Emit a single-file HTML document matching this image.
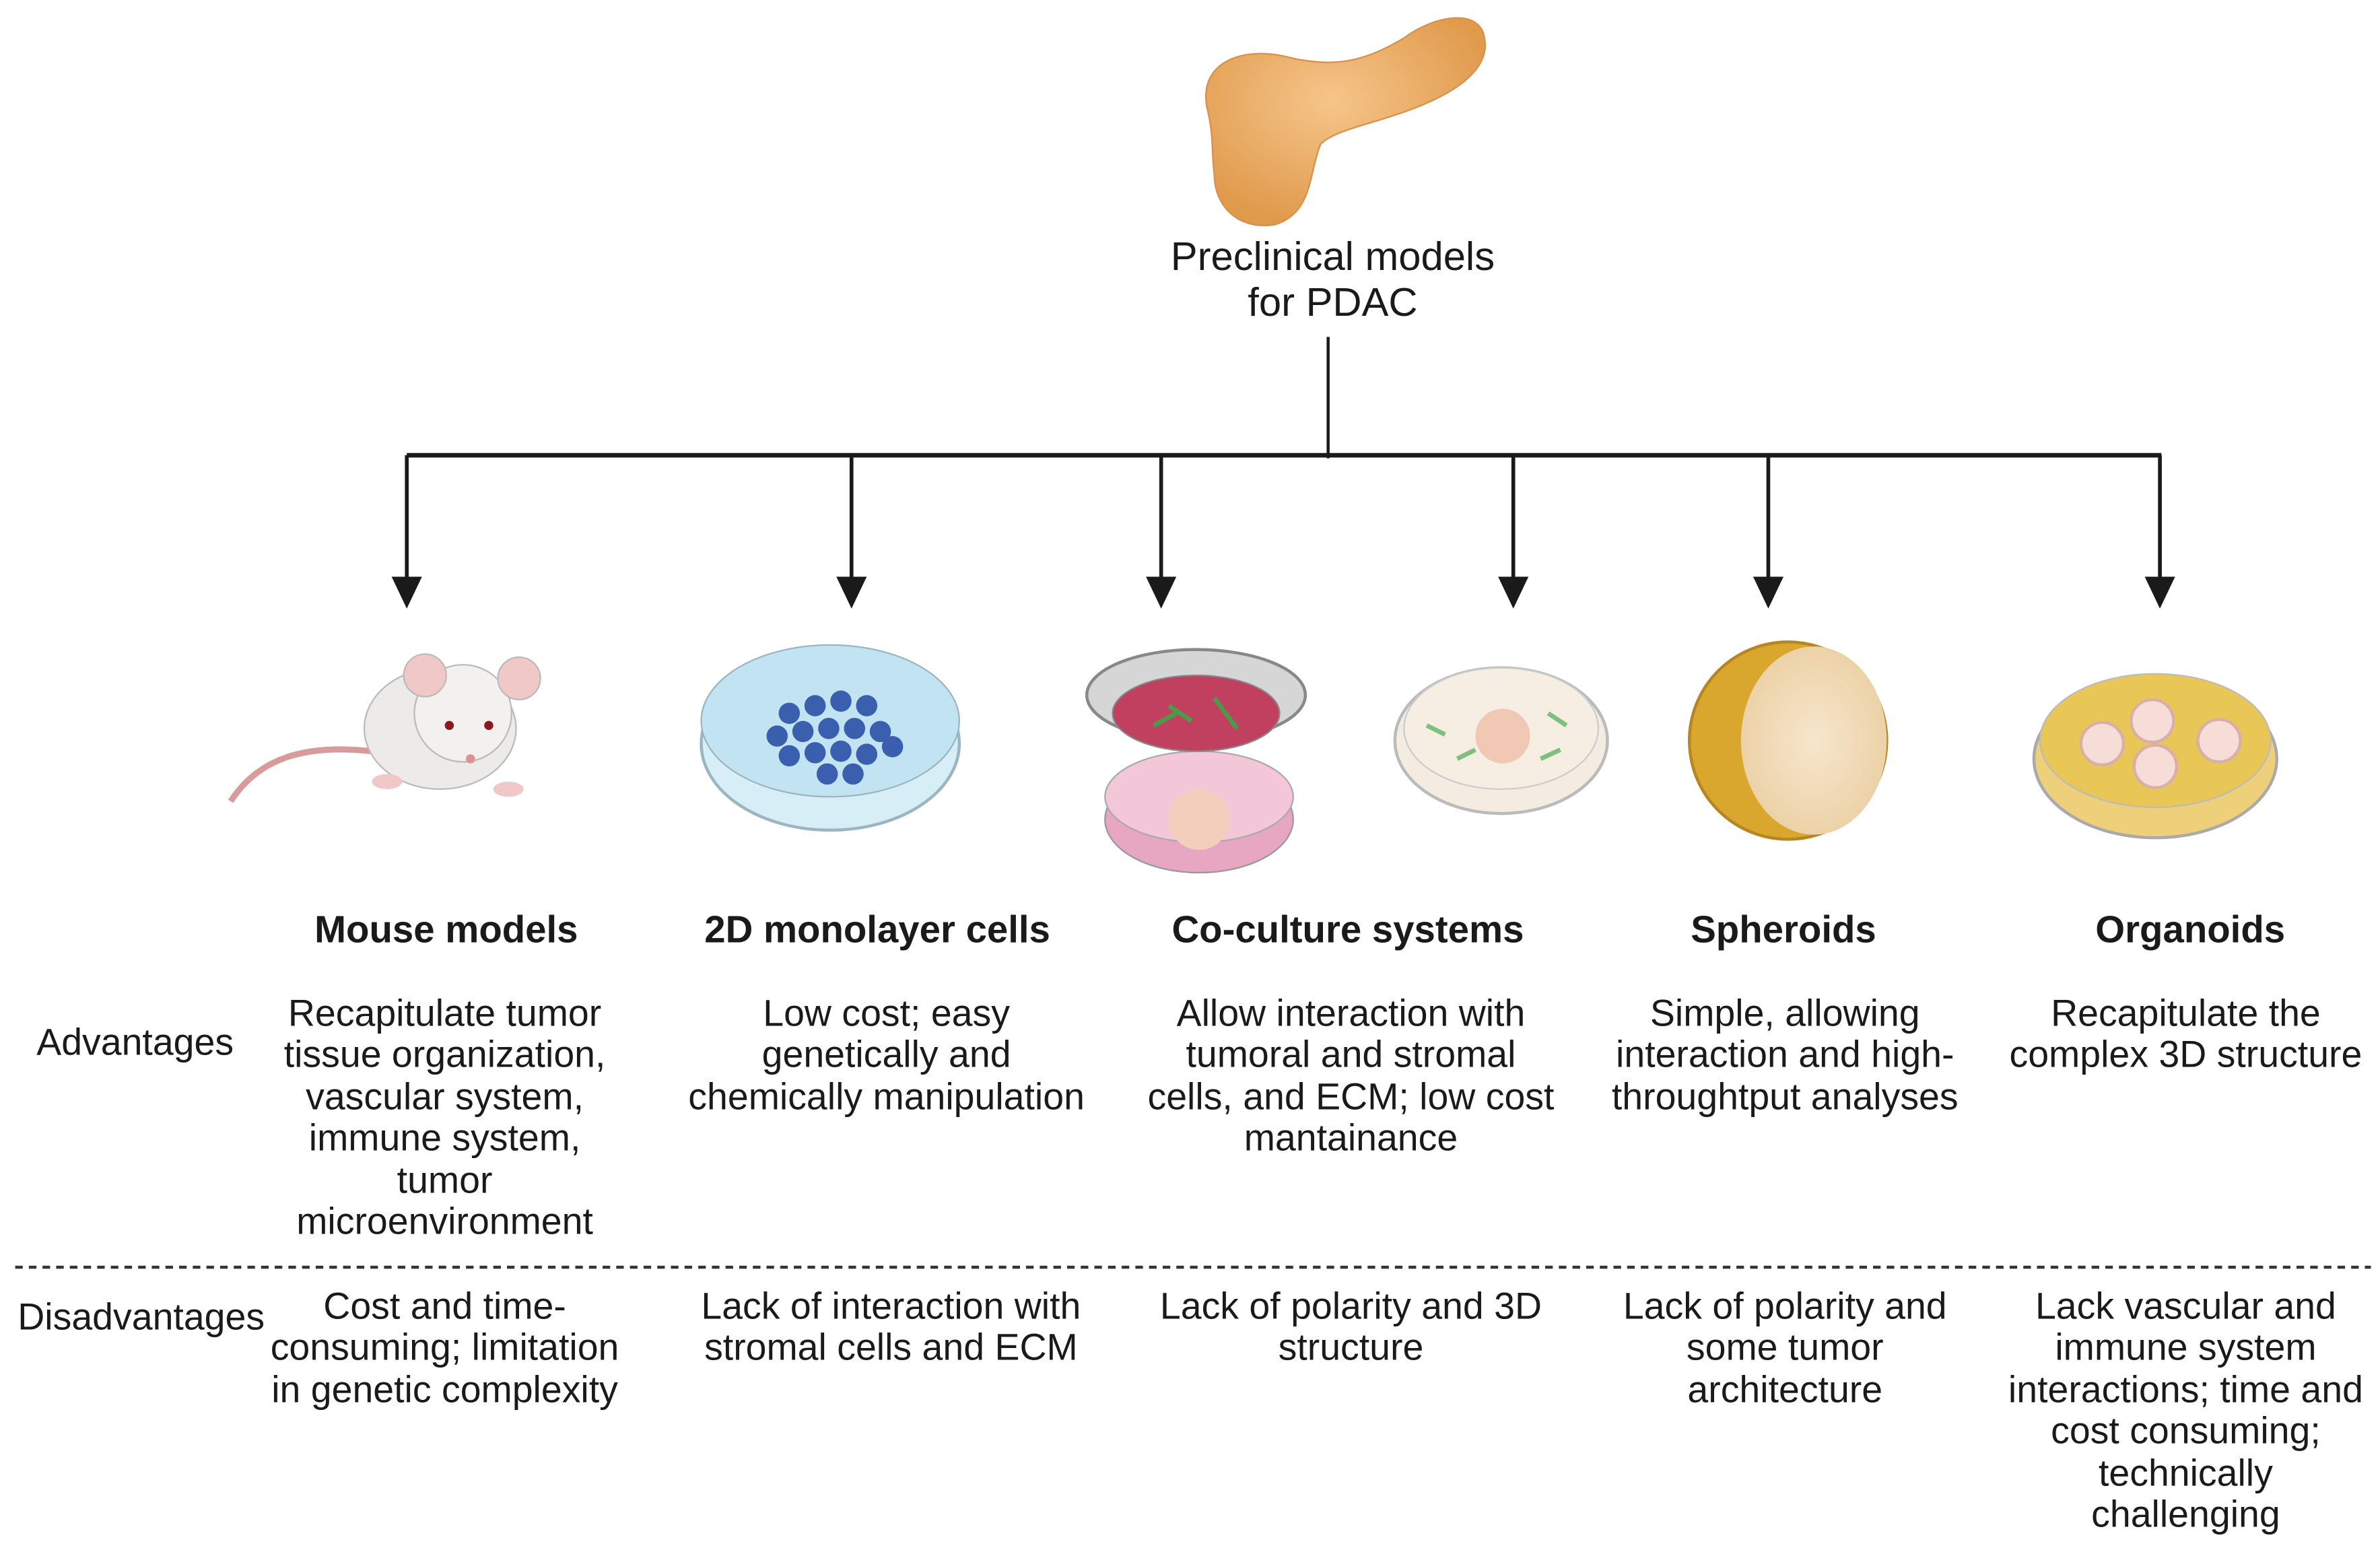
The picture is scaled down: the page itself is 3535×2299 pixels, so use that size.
<!DOCTYPE html>
<html><head><meta charset="utf-8"><style>
html,body{margin:0;padding:0;background:#fff;}
svg{display:block;}
text{font-family:"Liberation Sans",sans-serif;fill:#1a1a1a;}
</style></head><body>
<svg width="3535" height="2299" viewBox="0 0 1568 1020" preserveAspectRatio="none" xmlns="http://www.w3.org/2000/svg">
<defs>
<radialGradient id="pg" cx="0.45" cy="0.4" r="0.6"><stop offset="0" stop-color="#f6c58a"/><stop offset="1" stop-color="#e09a4c"/></radialGradient>
<radialGradient id="sg" cx="0.5" cy="0.5" r="0.5"><stop offset="0" stop-color="#f7e6cc"/><stop offset="1" stop-color="#ecd2a8"/></radialGradient>
</defs>
<path d="M795 70 C790 40 820 30 850 38 C880 45 900 40 925 25 C945 10 975 5 978 25 C982 45 960 60 935 70 C905 82 880 85 870 95 C862 115 865 140 840 148 C815 152 800 135 800 115 C798 100 800 90 795 70 Z" fill="url(#pg)" stroke="#d8904a" stroke-width="1"/>
<text x="878" y="178" font-size="26.5" text-anchor="middle">Preclinical models</text>
<text x="878" y="208" font-size="26.5" text-anchor="middle">for PDAC</text>
<g stroke="#1a1a1a" fill="none">
<line x1="875" y1="222" x2="875" y2="302" stroke-width="2"/>
<line x1="268" y1="300" x2="1424" y2="300" stroke-width="3"/>
<g stroke-width="2.5">
<line x1="268" y1="300" x2="268" y2="382"/><line x1="561" y1="300" x2="561" y2="382"/>
<line x1="765" y1="300" x2="765" y2="382"/><line x1="997" y1="300" x2="997" y2="382"/>
<line x1="1165" y1="300" x2="1165" y2="382"/><line x1="1423" y1="300" x2="1423" y2="382"/>
</g>
</g>
<g fill="#1a1a1a">
<polygon points="258,380 278,380 268,401"/><polygon points="551,380 571,380 561,401"/>
<polygon points="755,380 775,380 765,401"/><polygon points="987,380 1007,380 997,401"/>
<polygon points="1155,380 1175,380 1165,401"/><polygon points="1413,380 1433,380 1423,401"/>
</g>
<path d="M245 495 C200 490 170 500 152 528" stroke="#d99a9a" stroke-width="4" fill="none"/>
<ellipse cx="290" cy="480" rx="50" ry="40" fill="#ecebea" stroke="#bdbab8"/>
<circle cx="305" cy="470" r="32" fill="#f2f1f0" stroke="#bdbab8"/>
<circle cx="280" cy="445" r="14" fill="#f0c8c8" stroke="#bdbab8"/>
<circle cx="342" cy="447" r="14" fill="#f0c8c8" stroke="#bdbab8"/>
<circle cx="296" cy="478" r="3" fill="#8a1a1a"/><circle cx="322" cy="478" r="3" fill="#8a1a1a"/>
<circle cx="310" cy="500" r="3" fill="#e09090"/>
<ellipse cx="255" cy="515" rx="10" ry="5" fill="#f0c8c8"/><ellipse cx="335" cy="520" rx="10" ry="5" fill="#f0c8c8"/>
<ellipse cx="547" cy="490" rx="85" ry="57" fill="#d8eef6" stroke="#9ab6c2" stroke-width="2"/>
<ellipse cx="547" cy="475" rx="85" ry="50" fill="#c2e4f2" stroke="#9ab6c2"/>
<g fill="#3a5fae">
<circle cx="520" cy="470" r="7"/><circle cx="537" cy="465" r="7"/><circle cx="554" cy="462" r="7"/><circle cx="571" cy="465" r="7"/>
<circle cx="512" cy="485" r="7"/><circle cx="529" cy="482" r="7"/><circle cx="546" cy="480" r="7"/><circle cx="563" cy="480" r="7"/><circle cx="580" cy="482" r="7"/>
<circle cx="520" cy="498" r="7"/><circle cx="537" cy="496" r="7"/><circle cx="554" cy="495" r="7"/><circle cx="571" cy="497" r="7"/><circle cx="588" cy="492" r="7"/>
<circle cx="545" cy="510" r="7"/><circle cx="562" cy="510" r="7"/>
</g>
<ellipse cx="790" cy="540" rx="62" ry="35" fill="#e7a6c2" stroke="#999"/>
<ellipse cx="790" cy="525" rx="62" ry="30" fill="#f3c7d8" stroke="#aaa"/>
<circle cx="790" cy="540" r="20" fill="#f2cfbd"/>
<ellipse cx="788" cy="458" rx="72" ry="30" fill="#d6d6d6" stroke="#888" stroke-width="2"/>
<ellipse cx="788" cy="470" rx="55" ry="25" fill="#c2405f" stroke="#888"/>
<g stroke="#4a9a4a" stroke-width="3"><line x1="770" y1="465" x2="785" y2="475"/><line x1="800" y1="460" x2="815" y2="480"/><line x1="760" y1="478" x2="775" y2="470"/></g>
<ellipse cx="989" cy="488" rx="70" ry="48" fill="#f4ebe1" stroke="#bbb" stroke-width="2"/>
<ellipse cx="989" cy="480" rx="64" ry="40" fill="#f6eee3" stroke="#ccc"/>
<circle cx="990" cy="485" r="18" fill="#f0c8b4"/>
<g stroke="#7ec07e" stroke-width="3"><line x1="940" y1="478" x2="952" y2="484"/><line x1="1020" y1="470" x2="1032" y2="478"/><line x1="960" y1="500" x2="972" y2="494"/><line x1="1015" y1="500" x2="1028" y2="494"/></g>
<circle cx="1178" cy="488" r="65" fill="#d9a62e" stroke="#b78620" stroke-width="2"/>
<ellipse cx="1195" cy="488" rx="48" ry="62" fill="url(#sg)"/>
<ellipse cx="1420" cy="500" rx="80" ry="52" fill="#efd07a" stroke="#aaa" stroke-width="2"/>
<ellipse cx="1420" cy="488" rx="76" ry="44" fill="#e9c757" stroke="#bbb"/>
<g fill="#f7ddd8" stroke="#d9b0a8" stroke-width="2">
<circle cx="1385" cy="490" r="14"/><circle cx="1418" cy="475" r="14"/><circle cx="1420" cy="505" r="14"/><circle cx="1462" cy="488" r="14"/>
</g>
<g font-size="25" font-weight="bold" text-anchor="middle">
<text x="294" y="621">Mouse models</text>
<text x="578" y="621">2D monolayer cells</text>
<text x="888" y="621">Co-culture systems</text>
<text x="1175" y="621">Spheroids</text>
<text x="1443" y="621">Organoids</text>
</g>
<g font-size="24.6" text-anchor="middle">
<text x="89" y="695">Advantages</text>
<text x="293" y="676">Recapitulate tumor</text>
<text x="293" y="703">tissue organization,</text>
<text x="293" y="731">vascular system,</text>
<text x="293" y="758">immune system,</text>
<text x="293" y="786">tumor</text>
<text x="293" y="813">microenvironment</text>
<text x="584" y="676">Low cost; easy</text>
<text x="584" y="703">genetically and</text>
<text x="584" y="731">chemically manipulation</text>
<text x="890" y="676">Allow interaction with</text>
<text x="890" y="703">tumoral and stromal</text>
<text x="890" y="731">cells, and ECM; low cost</text>
<text x="890" y="758">mantainance</text>
<text x="1176" y="676">Simple, allowing</text>
<text x="1176" y="703">interaction and high-</text>
<text x="1176" y="731">throughtput analyses</text>
<text x="1440" y="676">Recapitulate the</text>
<text x="1440" y="703">complex 3D structure</text>
<text x="93" y="876">Disadvantages</text>
<text x="293" y="869">Cost and time-</text>
<text x="293" y="896">consuming; limitation</text>
<text x="293" y="924">in genetic complexity</text>
<text x="587" y="869">Lack of interaction with</text>
<text x="587" y="896">stromal cells and ECM</text>
<text x="890" y="869">Lack of polarity and 3D</text>
<text x="890" y="896">structure</text>
<text x="1176" y="869">Lack of polarity and</text>
<text x="1176" y="896">some tumor</text>
<text x="1176" y="924">architecture</text>
<text x="1440" y="869">Lack vascular and</text>
<text x="1440" y="896">immune system</text>
<text x="1440" y="924">interactions; time and</text>
<text x="1440" y="951">cost consuming;</text>
<text x="1440" y="979">technically</text>
<text x="1440" y="1006">challenging</text>
</g>
<line x1="10" y1="835" x2="1562" y2="835" stroke="#333" stroke-width="2" stroke-dasharray="5,4"/>
</svg>
</body></html>
